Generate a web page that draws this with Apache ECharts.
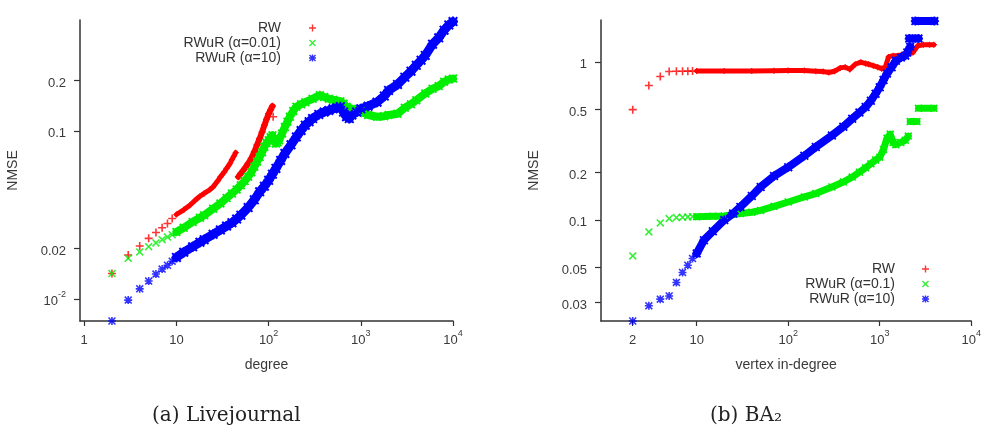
<!DOCTYPE html>
<html>
<head>
<meta charset="utf-8">
<title>NMSE vs degree</title>
<script src="https://cdn.jsdelivr.net/npm/echarts@6/dist/echarts.min.js"></script>
<style>
  html, body { margin: 0; padding: 0; background: #fff; }
  #chart { width: 984px; height: 440px; }
</style>
</head>
<body>
<div id="chart"></div>
<script>
// ---------- (a) Livejournal : degree -> NMSE ----------
const ljXTicks = [1, 10, 100, 1000, 10000];
const ljYTicks = [0.01, 0.02, 0.1, 0.2];

// RW: single markers + two dense runs
const ljRwPts = [[2,0.0142],[3,0.0183],[4,0.0207],[5,0.023],[6,0.0249],[7,0.0266],[8,0.0282],[9,0.0302],[112,0.122],[360,0.165],[2500,0.128]];
const ljRwRun1 = [[10,0.0319],[12,0.034],[14,0.0362],[16,0.0388],[18,0.041],[20,0.0426],[23,0.0448],[25,0.0466],[28,0.0505],[30,0.0535],[33,0.057],[35,0.060],[38,0.064],[40,0.0678],[42,0.071],[44,0.0745]];
const ljRwRun2 = [[47,0.0535],[50,0.056],[55,0.06],[60,0.0642],[65,0.069],[70,0.0754],[75,0.083],[80,0.0905],[85,0.099],[90,0.1087],[95,0.118],[100,0.127],[105,0.134],[110,0.141]];

// RWuR alpha=0.01
const ljUr001Pts = [[2,0.0142],[3,0.0175],[4,0.0191],[5,0.0205],[6,0.0216],[7,0.0226],[8,0.0234],[9,0.0242]];
const ljUr001Run = [[10,0.0251],[12,0.0266],[15,0.0288],[18,0.0305],[20,0.0316],[25,0.0345],[30,0.0371],[35,0.040],[40,0.0426],[45,0.045],[50,0.0477],[55,0.0505],[60,0.0535],[65,0.057],[70,0.0614],[75,0.066],[80,0.0703],[85,0.075],[90,0.0807],[95,0.085],[100,0.0884],[105,0.092],[110,0.0947],[115,0.088],[120,0.0845],[125,0.086],[130,0.0884],[140,0.097],[150,0.106],[160,0.114],[170,0.122],[185,0.132],[200,0.140],[225,0.145],[250,0.149],[300,0.156],[360,0.164],[400,0.160],[450,0.156],[500,0.154],[600,0.151],[650,0.146],[700,0.140],[800,0.136],[900,0.134],[1000,0.133],[1100,0.128],[1200,0.125],[1500,0.122],[1800,0.123],[2000,0.125],[2500,0.127],[3000,0.138],[3500,0.145],[4000,0.153],[5000,0.168],[6000,0.179],[7000,0.186],[8000,0.197],[9000,0.203],[10000,0.206]];

// RWuR alpha=10
const ljUr10Pts = [[2,0.0074],[3,0.00986],[4,0.0115],[5,0.0128],[6,0.0141],[7,0.0151],[8,0.0159],[9,0.0168]];
const ljUr10Run = [[10,0.0177],[12,0.019],[15,0.0205],[18,0.0218],[20,0.0226],[25,0.0243],[30,0.0258],[35,0.0272],[40,0.0285],[45,0.030],[50,0.0316],[60,0.0351],[70,0.039],[80,0.0436],[90,0.047],[100,0.051],[110,0.0555],[120,0.060],[135,0.067],[150,0.0737],[175,0.083],[200,0.0925],[225,0.101],[250,0.1087],[275,0.114],[300,0.119],[350,0.126],[400,0.130],[450,0.133],[500,0.136],[550,0.138],[600,0.140],[650,0.13],[700,0.122],[750,0.119],[800,0.125],[900,0.13],[1000,0.136],[1200,0.141],[1500,0.149],[1800,0.162],[2000,0.175],[2500,0.19],[3000,0.21],[3500,0.228],[4000,0.247],[4500,0.265],[5000,0.283],[6000,0.33],[7000,0.36],[8000,0.40],[9000,0.43],[10000,0.45]];

// ---------- (b) BA2 : vertex in-degree -> NMSE ----------
const baXTicks = [2, 10, 100, 1000, 10000];
const baYTicks = [0.03, 0.05, 0.1, 0.2, 0.5, 1];

const baRwPts = [[2,0.5],[3,0.711],[4,0.811],[5,0.872],[6,0.875],[7,0.876],[8,0.877],[9,0.878]];
const baRwRun = [[10,0.878],[20,0.879],[40,0.880],[70,0.882],[100,0.884],[150,0.886],[200,0.877],[240,0.872],[277,0.86],[320,0.875],[370,0.92],[420,0.93],[470,0.9],[540,0.97],[620,1.0],[700,0.98],[754,0.97],[850,0.95],[950,0.93],[1050,0.91],[1150,0.93],[1250,1.08],[1400,1.10],[1600,1.10],[1800,1.12],[2000,1.13],[2300,1.15],[2600,1.27],[3000,1.29],[3500,1.29],[3900,1.29]];

const baUr01Pts = [[2,0.0592],[3,0.084],[4,0.0957],[5,0.102],[6,0.1035],[7,0.104],[8,0.1045],[9,0.105]];
const baUr01Run = [[10,0.105],[15,0.1055],[20,0.106],[30,0.1098],[40,0.112],[50,0.115],[70,0.122],[100,0.13],[150,0.14],[200,0.147],[300,0.162],[400,0.174],[500,0.187],[600,0.201],[700,0.214],[800,0.227],[900,0.24],[1000,0.25],[1100,0.28],[1200,0.33],[1300,0.35],[1400,0.31],[1500,0.30],[1700,0.31],[1900,0.32],[2050,0.34]];
const baUr01Step1 = [[2150,0.42],[2550,0.42]];
const baUr01Step2 = [[2650,0.51],[3900,0.51]];

const baUr10Pts = [[2,0.0229],[3,0.0286],[4,0.0315],[5,0.033],[6,0.0402],[7,0.0465],[8,0.0517],[9,0.057]];
const baUr10Run = [[10,0.0613],[12,0.0745],[15,0.0848],[20,0.1],[25,0.11],[30,0.121],[40,0.142],[50,0.162],[70,0.19],[100,0.216],[150,0.255],[200,0.29],[300,0.343],[400,0.39],[500,0.438],[600,0.48],[700,0.519],[800,0.57],[900,0.63],[1000,0.694],[1100,0.77],[1200,0.846],[1350,0.93],[1500,1.02],[1700,1.07],[1900,1.1],[2000,1.15],[2150,1.25]];
const baUr10Step1 = [[2100,1.41],[2650,1.41]];
const baUr10Step2 = [[2450,1.82],[3950,1.82]];

// ---------- styling helpers ----------
const FONT = '"Liberation Sans", Arial, sans-serif';
const PLUS = 'path://M4,0H6V4H10V6H6V10H4V6H0V4H4Z';
const CROSS = 'path://M1.4,0L5,3.6L8.6,0L10,1.4L6.4,5L10,8.6L8.6,10L5,6.4L1.4,10L0,8.6L3.6,5L0,1.4Z';
const STAR = 'path://M4,0H6V4H10V6H6V10H4V6H0V4H4Z M1.4,0L5,3.6L8.6,0L10,1.4L6.4,5L10,8.6L8.6,10L5,6.4L1.4,10L0,8.6L3.6,5L0,1.4Z';
const RED = '#ff0000', GREEN = '#00ee00', BLUE = '#0000ff';

function dots(name, data, sym, color, idx) {
  return {
    name, type: 'scatter', data, xAxisIndex: idx, yAxisIndex: idx,
    symbol: sym, symbolSize: 8, clip: false,
    itemStyle: { color }, emphasis: { disabled: true }
  };
}
function run(name, data, sym, color, idx, w) {
  return {
    name, type: 'line', data, xAxisIndex: idx, yAxisIndex: idx,
    symbol: sym, symbolSize: w + 1, showSymbol: true,
    lineStyle: { color, width: w, join: 'round', cap: 'round' },
    itemStyle: { color }, emphasis: { disabled: true }
  };
}

function tickText(v) {
  const e = Math.round(Math.log10(v));
  if (Math.abs(v - Math.pow(10, e)) < 1e-12 && Math.abs(e) >= 2) {
    return '{b|10}{s|' + (e < 0 ? '-' : '') + Math.abs(e) + '}';
  }
  return '{b|' + v + '}';
}
const tickRich = {
  b: { fontSize: 13, fontFamily: FONT, color: '#3a3a3a', lineHeight: 18, verticalAlign: 'bottom' },
  s: { fontSize: 9, fontFamily: FONT, color: '#3a3a3a', lineHeight: 10, verticalAlign: 'top' }
};
const axisLine = { lineStyle: { color: '#333', width: 1.5 } };
const nameStyle = { fontSize: 14, fontFamily: FONT, color: '#3a3a3a' };

function xAxis(idx, ticks, name) {
  return {
    type: 'log', logBase: 10, gridIndex: idx, min: 0.9, max: 10000,
    name, nameLocation: 'middle', nameGap: 37, nameTextStyle: nameStyle,
    axisLine, splitLine: { show: false },
    axisTick: { customValues: ticks, length: 5, lineStyle: { color: '#333', width: 1.2 } },
    axisLabel: { customValues: ticks, formatter: tickText, rich: tickRich, margin: 8 }
  };
}
function yAxis(idx, min, max, ticks) {
  return {
    type: 'log', logBase: 10, gridIndex: idx, min, max,
    name: 'NMSE', nameLocation: 'middle', nameRotate: 90, nameGap: 60, nameTextStyle: nameStyle,
    axisLine, splitLine: { show: false },
    axisTick: { customValues: ticks, length: 6, lineStyle: { color: '#333', width: 1.2 } },
    axisLabel: { customValues: ticks, formatter: tickText, rich: tickRich, margin: 14 }
  };
}

const chart = echarts.init(document.getElementById('chart'));
chart.setOption({
  animation: false,
  backgroundColor: '#fff',
  title: [
    { text: '(a) Livejournal', left: 147, top: 401, textStyle: { fontFamily: '"DejaVu Serif", serif', fontSize: 20, fontWeight: 'normal', color: '#222' } },
    { text: '(b) BA\u2082', left: 705, top: 401, textStyle: { fontFamily: '"DejaVu Serif", serif', fontSize: 20, fontWeight: 'normal', color: '#222' } }
  ],
  legend: [
    {
      data: ['RW', 'RWuR (\u03b1=0.01)', 'RWuR (\u03b1=10)'],
      orient: 'vertical', align: 'right', right: 663, top: 16,
      itemWidth: 7, itemHeight: 7, itemGap: 1, selectedMode: false,
      textStyle: { fontSize: 14, fontFamily: FONT, color: '#333', padding: [0, 23, 0, 0] }
    },
    {
      data: ['RW', 'RWuR (\u03b1=0.1)', 'RWuR (\u03b1=10)'],
      orient: 'vertical', align: 'right', right: 50, top: 257,
      itemWidth: 7, itemHeight: 7, itemGap: 1, selectedMode: false,
      textStyle: { fontSize: 14, fontFamily: FONT, color: '#333', padding: [0, 22, 0, 0] }
    }
  ],
  grid: [
    { left: 80, top: 20, width: 373, height: 301 },
    { left: 601, top: 20, width: 372, height: 301 }
  ],
  xAxis: [xAxis(0, ljXTicks, 'degree'), xAxis(1, baXTicks, 'vertex in-degree')],
  yAxis: [yAxis(0, 0.0074, 0.46, ljYTicks), yAxis(1, 0.0229, 1.85, baYTicks)],
  series: [
    dots('RW', ljRwPts, PLUS, RED, 0),
    run('RW', ljRwRun1, PLUS, RED, 0, 5),
    run('RW', ljRwRun2, PLUS, RED, 0, 6),
    dots('RWuR (\u03b1=0.01)', ljUr001Pts, CROSS, GREEN, 0),
    run('RWuR (\u03b1=0.01)', ljUr001Run, CROSS, GREEN, 0, 8),
    dots('RWuR (\u03b1=10)', ljUr10Pts, STAR, BLUE, 0),
    run('RWuR (\u03b1=10)', ljUr10Run, STAR, BLUE, 0, 9),

    dots('RW', baRwPts, PLUS, RED, 1),
    run('RW', baRwRun, PLUS, RED, 1, 5),
    dots('RWuR (\u03b1=0.1)', baUr01Pts, CROSS, GREEN, 1),
    run('RWuR (\u03b1=0.1)', baUr01Run, CROSS, GREEN, 1, 7),
    run('RWuR (\u03b1=0.1)', baUr01Step1, CROSS, GREEN, 1, 7),
    run('RWuR (\u03b1=0.1)', baUr01Step2, CROSS, GREEN, 1, 7),
    dots('RWuR (\u03b1=10)', baUr10Pts, STAR, BLUE, 1),
    run('RWuR (\u03b1=10)', baUr10Run, STAR, BLUE, 1, 8),
    run('RWuR (\u03b1=10)', baUr10Step1, STAR, BLUE, 1, 8),
    run('RWuR (\u03b1=10)', baUr10Step2, STAR, BLUE, 1, 8)
  ]
});
</script>
</body>
</html>
